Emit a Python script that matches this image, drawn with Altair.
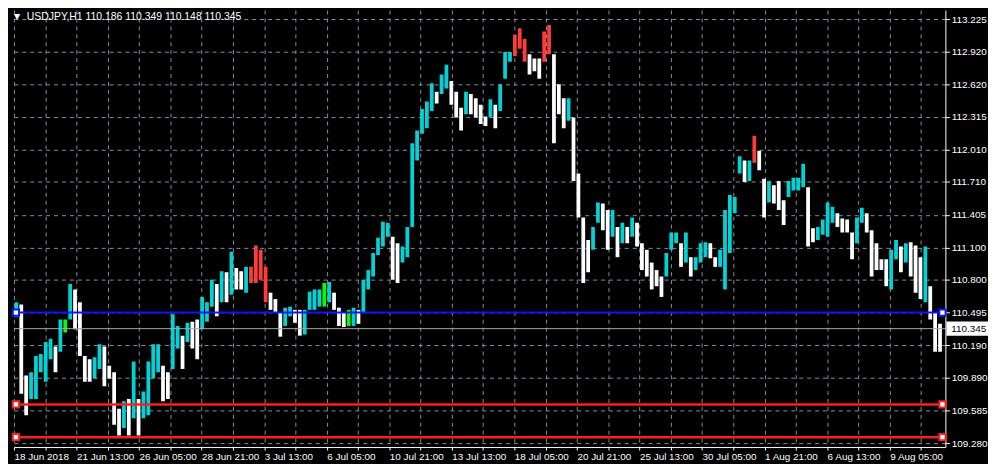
import altair as alt
import pandas as pd

# ---- values (5-hour slots, prices in JPY) ----
highs = [
110.59,110.57,109.91,109.94,110.09,110.11,110.22,110.25,110.18,110.43,
110.43,110.76,110.71,110.59,110.09,110.06,110.08,110.20,110.18,110.00,
109.94,109.60,109.67,109.69,110.04,109.69,109.76,110.04,110.20,110.20,
110.00,109.94,110.48,110.37,110.28,110.40,110.41,110.43,110.64,110.59,
110.80,110.76,110.88,110.87,111.06,110.91,110.88,110.92,110.92,111.12,
111.08,110.92,110.68,110.62,110.50,110.54,110.55,110.52,110.52,110.52,
110.69,110.71,110.71,110.77,110.78,110.68,110.54,110.50,110.52,110.54,
110.52,110.80,110.89,111.05,111.19,111.34,111.33,111.20,111.14,111.11,
111.29,112.07,112.19,112.39,112.46,112.63,112.55,112.71,112.80,112.65,
112.55,112.40,112.55,112.53,112.49,112.43,112.32,112.48,112.43,112.62,
112.92,112.92,113.08,113.14,113.04,112.90,112.86,112.86,113.11,113.17,
112.90,112.62,112.49,112.49,112.31,111.79,111.38,111.17,111.29,111.52,
111.51,111.45,111.45,111.29,111.33,111.29,111.38,111.33,111.14,111.08,
110.96,110.89,110.83,111.05,111.24,111.24,111.14,111.24,111.01,111.01,
111.14,111.15,111.14,111.01,111.08,111.45,111.59,111.57,111.95,111.91,
111.91,112.14,112.00,111.74,111.72,111.68,111.72,111.54,111.72,111.75,
111.75,111.88,111.66,111.28,111.29,111.36,111.52,111.48,111.42,111.37,
111.36,111.24,111.38,111.47,111.42,111.26,111.14,110.99,110.99,111.08,
111.17,111.11,111.14,111.15,111.12,111.01,111.11,110.74,110.50,110.39,
]
lows = [
110.45,109.74,109.54,109.69,109.69,109.94,109.85,110.06,109.94,110.13,
110.31,110.43,110.34,110.09,109.85,109.85,109.88,109.97,109.81,109.88,
109.45,109.35,109.42,109.35,109.51,109.35,109.51,109.54,109.88,109.94,
109.67,109.69,109.97,110.16,109.97,110.22,110.16,110.06,110.34,110.41,
110.55,110.46,110.59,110.59,110.66,110.71,110.71,110.68,110.77,110.77,
110.80,110.59,110.52,110.50,110.27,110.37,110.46,110.40,110.28,110.29,
110.52,110.52,110.55,110.55,110.59,110.52,110.37,110.36,110.37,110.37,
110.39,110.50,110.71,110.83,111.03,111.11,111.20,110.80,110.77,110.96,
111.01,111.29,111.91,112.16,112.21,112.37,112.44,112.53,112.58,112.43,
112.31,112.19,112.34,112.34,112.31,112.25,112.23,112.31,112.21,112.37,
112.67,112.83,112.88,112.95,112.83,112.71,112.74,112.67,112.83,112.90,
112.07,112.34,112.21,112.28,111.72,111.38,110.77,110.87,111.08,111.33,
111.26,111.08,111.20,111.01,111.14,111.14,111.20,111.11,110.89,110.83,
110.71,110.74,110.64,110.83,111.08,111.14,110.92,110.96,110.83,110.89,
110.96,111.01,111.00,110.92,110.92,110.71,111.05,111.42,111.79,111.71,
111.72,111.89,111.82,111.38,111.52,111.51,111.45,111.31,111.57,111.63,
111.63,111.66,111.11,111.15,111.17,111.22,111.20,111.33,111.29,111.24,
111.24,110.99,111.14,111.33,111.24,110.83,110.89,110.89,110.74,110.71,
110.99,110.87,110.96,110.83,110.68,110.62,110.59,110.43,110.13,110.13,
]
red_slots = [48, 49, 50, 51, 102, 103, 104, 108, 109, 151]
green_slots = [10, 63, 68]

price_labels = [113.225, 112.920, 112.620, 112.315, 112.010, 111.710, 111.405,
                111.100, 110.800, 110.495, 110.190, 109.890, 109.585, 109.280]
date_labels = ["18 Jun 2018", "21 Jun 13:00", "26 Jun 05:00", "28 Jun 21:00",
               "3 Jul 13:00", "6 Jul 05:00", "10 Jul 21:00", "13 Jul 13:00",
               "18 Jul 05:00", "20 Jul 21:00", "25 Jul 13:00", "30 Jul 05:00",
               "1 Aug 21:00", "6 Aug 13:00", "9 Aug 05:00"]

blue_level = 110.495
red_levels = [109.64, 109.335]
current_price = 110.345
header = "USDJPY,H1  110.186 110.349 110.148 110.345"

SLOT = 5          # hours per slot
N_HOURS = 953     # visible bars
W, H = 940, 441
FONT = "Liberation Sans"
BLUE, RED = "#0a14ff", "#ff1e1e"

# ---- table ----
rows = []
prev_mid = None
for i, (h, l) in enumerate(zip(highs, lows)):
    mid = (h + l) / 2
    if i in red_slots:
        kind = "red"
    elif i in green_slots:
        kind = "green"
    elif prev_mid is None or mid >= prev_mid:
        kind = "up"
    else:
        kind = "down"
    prev_mid = mid
    rows.append({"bar": i * SLOT + SLOT / 2, "high": h, "low": l, "kind": kind})
bars = pd.DataFrame(rows)

x_scale = alt.Scale(domain=[0, N_HOURS], nice=False, zero=False)
y_scale = alt.Scale(domain=[109.243, 113.31], nice=False, zero=False)

label_js = "[" + ",".join("'" + d + "'" for d in date_labels) + "]"
x_axis = alt.Axis(
    values=list(range(0, N_HOURS, 32)),
    labelExpr=f"datum.value % 64 == 0 ? {label_js}[datum.value / 64] : ''",
    labelAlign="left", labelPadding=2, labelOverlap=False, labelFlush=False,
    grid=True, gridColor="#8290a0", gridDash=[4, 4], gridWidth=1,
    domainColor="white", tickColor="white", tickSize=3,
    labelColor="white", labelFont=FONT, labelFontSize=10, title=None,
)
y_axis = alt.Axis(
    orient="right", values=price_labels, format=".3f",
    labelOverlap=False, labelFlush=False, labelBound=False,
    grid=True, gridColor="#8290a0", gridDash=[4, 4], gridWidth=1,
    domainColor="white", tickColor="white", tickSize=4, labelPadding=2,
    labelColor="white", labelFont=FONT, labelFontSize=10, title=None,
)

def X(field):
    return alt.X(field, type="quantitative", scale=x_scale, axis=x_axis)

def Y(field):
    return alt.Y(field, type="quantitative", scale=y_scale, axis=y_axis)

candles = alt.Chart(bars).mark_rule(strokeWidth=3.8, clip=True).encode(
    x=X("bar"),
    y=Y("low"),
    y2="high:Q",
    color=alt.Color("kind:N", legend=None,
                    scale=alt.Scale(domain=["up", "down", "red", "green"],
                                    range=["#00d2d6", "#ffffff", "#ff3b3b", "#00ff00"])),
)

blue_df = pd.DataFrame({"p": [blue_level]})
red_df = pd.DataFrame({"p": red_levels})
blue_rule = alt.Chart(blue_df).mark_rule(strokeWidth=2, color=BLUE).encode(y=Y("p"))
red_rule = alt.Chart(red_df).mark_rule(strokeWidth=2.5, color=RED).encode(y=Y("p"))
cur_rule = alt.Chart(pd.DataFrame({"p": [current_price]})).mark_rule(
    color="#a8a8a8", strokeWidth=1).encode(y=Y("p"))

end_bars = [2, 950]
red_ends = pd.DataFrame([{"bar": b, "p": r} for r in red_levels for b in end_bars])
blue_ends = pd.DataFrame([{"bar": b, "p": blue_level} for b in end_bars])
red_sq = alt.Chart(red_ends).mark_square(size=40, fill="white", stroke=RED, strokeWidth=2,
                                         opacity=1, clip=False).encode(x=X("bar"), y=Y("p"))
blue_sq = alt.Chart(blue_ends).mark_square(size=40, fill="white", stroke=BLUE, strokeWidth=2,
                                           opacity=1, clip=False).encode(x=X("bar"), y=Y("p"))

cur_df = pd.DataFrame({"p": [current_price], "t": [f"{current_price:.3f}"]})
cur_box = alt.Chart(cur_df).mark_point(
    shape="M-1,-0.34L1,-0.34L1,0.34L-1,0.34Z", size=1764, filled=True,
    fill="white", opacity=1, strokeWidth=0, clip=False,
).encode(x=alt.value(W + 22), y=Y("p"))
cur_text = alt.Chart(cur_df).mark_text(
    align="left", baseline="middle", color="black", font=FONT, fontSize=10, clip=False,
).encode(x=alt.value(W + 6), y=Y("p"), text="t:N")

head_df = pd.DataFrame({"t": [header]})
head_tri = alt.Chart(head_df).mark_text(
    text="▼", align="left", baseline="top", color="white", fontSize=8, font="DejaVu Sans",
).encode(x=alt.value(0), y=alt.value(3))
head_text = alt.Chart(head_df).mark_text(
    align="left", baseline="top", color="white", font=FONT, fontSize=10.5,
).encode(x=alt.value(13), y=alt.value(2), text="t:N")

chart = alt.layer(
    candles, blue_rule, red_rule, cur_rule, red_sq, blue_sq, cur_box, cur_text,
    head_tri, head_text
).properties(width=W, height=H, padding=0).configure(background="black").configure_view(
    strokeWidth=0, fill="black"
).configure_axis(labelOverlap=False)

chart.save("out.html", embed_options={"renderer": "svg", "actions": False})
